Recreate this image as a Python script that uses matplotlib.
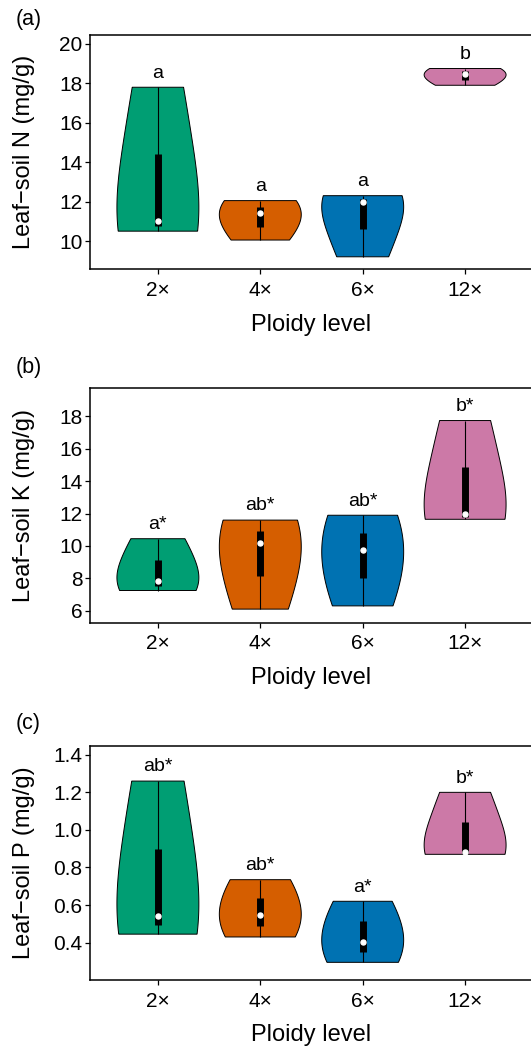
import matplotlib
matplotlib.use("Agg")
import matplotlib.pyplot as plt
import numpy as np

plt.rcParams['font.family'] = ['Liberation Sans', 'DejaVu Sans']

# ploidy levels and colours
levels = ["2×", "4×", "6×", "12×"]
colors = ["#009E73", "#D55E00", "#0072B2", "#CC79A7"]

n_2x = [10.5, 11.0, 17.8]
n_4x = [10.05, 11.4, 12.05]
n_6x = [9.2, 12.0, 12.3]
n_12x = [17.9, 18.45, 18.75]

k_2x = [7.25, 7.85, 10.45]
k_4x = [6.1, 10.2, 11.6]
k_6x = [6.3, 9.75, 11.9]
k_12x = [11.65, 11.95, 17.75]

p_2x = [0.445, 0.54, 1.26]
p_4x = [0.43, 0.545, 0.735]
p_6x = [0.295, 0.405, 0.62]
p_12x = [0.87, 0.885, 1.2]

letters_n = ["a", "a", "a", "b"]
letters_k = ["a*", "ab*", "ab*", "b*"]
letters_p = ["ab*", "ab*", "a*", "b*"]

panels = [
    ("(a)", "Leaf\u2212soil N (mg/g)", [n_2x, n_4x, n_6x, n_12x], letters_n,
     (8.58, 20.46), [10, 12, 14, 16, 18, 20], "{:.0f}"),
    ("(b)", "Leaf\u2212soil K (mg/g)", [k_2x, k_4x, k_6x, k_12x], letters_k,
     (5.26, 19.73), [6, 8, 10, 12, 14, 16, 18], "{:.0f}"),
    ("(c)", "Leaf\u2212soil P (mg/g)", [p_2x, p_4x, p_6x, p_12x], letters_p,
     (0.201, 1.448), [0.4, 0.6, 0.8, 1.0, 1.2, 1.4], "{:.1f}"),
]


def nrd0(x):
    x = np.asarray(x, float)
    sd = x.std(ddof=1)
    q1, q3 = np.percentile(x, [25, 75])
    lo = min(sd, (q3 - q1) / 1.34)
    if lo <= 0:
        lo = sd
    return 0.9 * lo * len(x) ** -0.2


def violin(ax, pos, vals, col, width=0.8, adjust=2.0):
    vals = np.asarray(vals, float)
    bw = nrd0(vals) * adjust
    ys = np.linspace(vals.min(), vals.max(), 512)
    dens = np.exp(-0.5 * ((ys[:, None] - vals[None, :]) / bw) ** 2).sum(axis=1)
    half = dens / dens.max() * width / 2
    xs = np.concatenate([pos - half, (pos + half)[::-1], [pos - half[0]]])
    yy = np.concatenate([ys, ys[::-1], [ys[0]]])
    ax.fill(xs, yy, facecolor=col, edgecolor="black", linewidth=0.7, zorder=2)
    q1, med, q3 = np.percentile(vals, [25, 50, 75])
    ax.vlines(pos, vals.min(), vals.max(), color="black", linewidth=0.8, zorder=3)
    ax.vlines(pos, q1, q3, color="black", linewidth=5, zorder=4)
    ax.plot(pos, med, "o", markersize=3.6, markerfacecolor="white",
            markeredgecolor="white", zorder=5)


fig = plt.figure(figsize=(5.31, 10.48), dpi=100)
bottoms = [0.7433, 0.4058, 0.0649]
tag_y = [20, 368, 723]

for (tag, ylab, groups, lets, ylim, yt, fmt), b, ty in zip(panels, bottoms, tag_y):
    ax = fig.add_axes([90 / 531, b, 443 / 531, 0.2235])
    x = np.arange(1, len(levels) + 1)
    for xi, g, c, l in zip(x, groups, colors, lets):
        violin(ax, xi, g, c)
        ax.annotate(l, (xi, max(g)), xytext=(0, 7), textcoords="offset points",
                    ha="center", va="baseline", fontsize=14)
    ax.set_xlim(0.337, 4.663)
    ax.set_ylim(*ylim)
    ax.set_xticks(x)
    ax.set_xticklabels(levels)
    ax.set_yticks(yt)
    ax.set_yticklabels([fmt.format(v) for v in yt])
    ax.tick_params(axis="both", labelsize=15, length=3.3, width=0.9, direction="out")
    ax.tick_params(axis="x", pad=5)
    ax.tick_params(axis="y", pad=2)
    for s in ax.spines.values():
        s.set_linewidth(1.1)
    ax.set_xlabel("Ploidy level", fontsize=17)
    ax.set_ylabel(ylab, fontsize=17)
    ax.xaxis.set_label_coords(0.5, -0.19)
    ax.yaxis.set_label_coords(-0.125, 0.5)
    fig.text(16 / 531, 1 - ty / 1048, tag, fontsize=15.5, ha="left", va="center")

fig.savefig("out.png", dpi=100)
